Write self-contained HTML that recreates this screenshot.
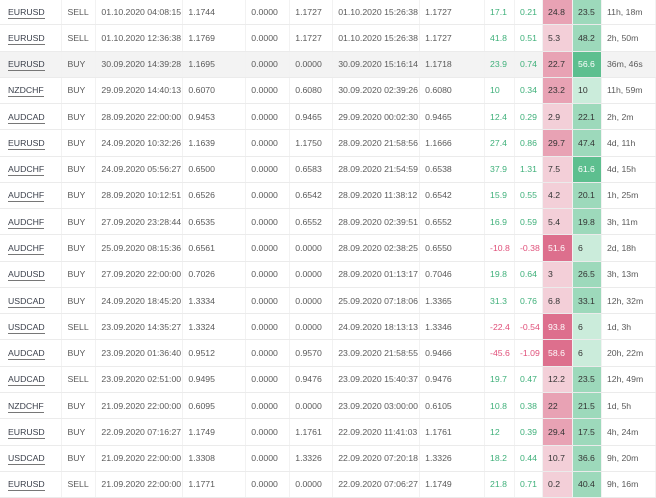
<!DOCTYPE html>
<html><head><meta charset="utf-8"><style>
html,body{margin:0;padding:0;background:#fff;width:656px;height:496px;overflow:hidden}
table{position:absolute;left:0;top:-1px;border-collapse:collapse;table-layout:fixed;font-family:"Liberation Sans",sans-serif;font-size:8.7px;color:#5a5a5a}
td{height:25.28px;padding:0 0 0 5px;border-bottom:1px solid #ebebeb;border-right:1px solid #f2f2f2;white-space:nowrap;overflow:hidden}
td:first-child{padding-left:8px}
td:first-child span{color:#3a3f4a;border-bottom:1px solid #777;padding-bottom:1px}
tr.h td{background:#f3f3f3}
.g{color:#3fb07a}.r{color:#e0507a}
.r1{background:#f3cfd8!important;color:#333}.r2{background:#e8a2b4!important;color:#333}.r3{background:#dd6f8d!important;color:#fff}
.g1{background:#cbecdb!important;color:#333}.g2{background:#9dd9bb!important;color:#333}.g3{background:#5dbf8f!important;color:#fff}
</style></head><body>
<table>
<colgroup><col style="width:62px"><col style="width:34px"><col style="width:87px"><col style="width:63px"><col style="width:44px"><col style="width:43px"><col style="width:87px"><col style="width:65px"><col style="width:30px"><col style="width:28px"><col style="width:30px"><col style="width:29px"><col style="width:54px"></colgroup>
<tr><td><span>EURUSD</span></td><td>SELL</td><td>01.10.2020 04:08:15</td><td>1.1744</td><td>0.0000</td><td>1.1727</td><td>01.10.2020 15:26:38</td><td>1.1727</td><td class="g">17.1</td><td class="g">0.21</td><td class="r2">24.8</td><td class="g2">23.5</td><td>11h, 18m</td></tr>
<tr><td><span>EURUSD</span></td><td>SELL</td><td>01.10.2020 12:36:38</td><td>1.1769</td><td>0.0000</td><td>1.1727</td><td>01.10.2020 15:26:38</td><td>1.1727</td><td class="g">41.8</td><td class="g">0.51</td><td class="r1">5.3</td><td class="g2">48.2</td><td>2h, 50m</td></tr>
<tr class="h"><td><span>EURUSD</span></td><td>BUY</td><td>30.09.2020 14:39:28</td><td>1.1695</td><td>0.0000</td><td>0.0000</td><td>30.09.2020 15:16:14</td><td>1.1718</td><td class="g">23.9</td><td class="g">0.74</td><td class="r2">22.7</td><td class="g3">56.6</td><td>36m, 46s</td></tr>
<tr><td><span>NZDCHF</span></td><td>BUY</td><td>29.09.2020 14:40:13</td><td>0.6070</td><td>0.0000</td><td>0.6080</td><td>30.09.2020 02:39:26</td><td>0.6080</td><td class="g">10</td><td class="g">0.34</td><td class="r2">23.2</td><td class="g1">10</td><td>11h, 59m</td></tr>
<tr><td><span>AUDCAD</span></td><td>BUY</td><td>28.09.2020 22:00:00</td><td>0.9453</td><td>0.0000</td><td>0.9465</td><td>29.09.2020 00:02:30</td><td>0.9465</td><td class="g">12.4</td><td class="g">0.29</td><td class="r1">2.9</td><td class="g2">22.1</td><td>2h, 2m</td></tr>
<tr><td><span>EURUSD</span></td><td>BUY</td><td>24.09.2020 10:32:26</td><td>1.1639</td><td>0.0000</td><td>1.1750</td><td>28.09.2020 21:58:56</td><td>1.1666</td><td class="g">27.4</td><td class="g">0.86</td><td class="r2">29.7</td><td class="g2">47.4</td><td>4d, 11h</td></tr>
<tr><td><span>AUDCHF</span></td><td>BUY</td><td>24.09.2020 05:56:27</td><td>0.6500</td><td>0.0000</td><td>0.6583</td><td>28.09.2020 21:54:59</td><td>0.6538</td><td class="g">37.9</td><td class="g">1.31</td><td class="r1">7.5</td><td class="g3">61.6</td><td>4d, 15h</td></tr>
<tr><td><span>AUDCHF</span></td><td>BUY</td><td>28.09.2020 10:12:51</td><td>0.6526</td><td>0.0000</td><td>0.6542</td><td>28.09.2020 11:38:12</td><td>0.6542</td><td class="g">15.9</td><td class="g">0.55</td><td class="r1">4.2</td><td class="g2">20.1</td><td>1h, 25m</td></tr>
<tr><td><span>AUDCHF</span></td><td>BUY</td><td>27.09.2020 23:28:44</td><td>0.6535</td><td>0.0000</td><td>0.6552</td><td>28.09.2020 02:39:51</td><td>0.6552</td><td class="g">16.9</td><td class="g">0.59</td><td class="r1">5.4</td><td class="g2">19.8</td><td>3h, 11m</td></tr>
<tr><td><span>AUDCHF</span></td><td>BUY</td><td>25.09.2020 08:15:36</td><td>0.6561</td><td>0.0000</td><td>0.0000</td><td>28.09.2020 02:38:25</td><td>0.6550</td><td class="r">-10.8</td><td class="r">-0.38</td><td class="r3">51.6</td><td class="g1">6</td><td>2d, 18h</td></tr>
<tr><td><span>AUDUSD</span></td><td>BUY</td><td>27.09.2020 22:00:00</td><td>0.7026</td><td>0.0000</td><td>0.0000</td><td>28.09.2020 01:13:17</td><td>0.7046</td><td class="g">19.8</td><td class="g">0.64</td><td class="r1">3</td><td class="g2">26.5</td><td>3h, 13m</td></tr>
<tr><td><span>USDCAD</span></td><td>BUY</td><td>24.09.2020 18:45:20</td><td>1.3334</td><td>0.0000</td><td>0.0000</td><td>25.09.2020 07:18:06</td><td>1.3365</td><td class="g">31.3</td><td class="g">0.76</td><td class="r1">6.8</td><td class="g2">33.1</td><td>12h, 32m</td></tr>
<tr><td><span>USDCAD</span></td><td>SELL</td><td>23.09.2020 14:35:27</td><td>1.3324</td><td>0.0000</td><td>0.0000</td><td>24.09.2020 18:13:13</td><td>1.3346</td><td class="r">-22.4</td><td class="r">-0.54</td><td class="r3">93.8</td><td class="g1">6</td><td>1d, 3h</td></tr>
<tr><td><span>AUDCAD</span></td><td>BUY</td><td>23.09.2020 01:36:40</td><td>0.9512</td><td>0.0000</td><td>0.9570</td><td>23.09.2020 21:58:55</td><td>0.9466</td><td class="r">-45.6</td><td class="r">-1.09</td><td class="r3">58.6</td><td class="g1">6</td><td>20h, 22m</td></tr>
<tr><td><span>AUDCAD</span></td><td>SELL</td><td>23.09.2020 02:51:00</td><td>0.9495</td><td>0.0000</td><td>0.9476</td><td>23.09.2020 15:40:37</td><td>0.9476</td><td class="g">19.7</td><td class="g">0.47</td><td class="r1">12.2</td><td class="g2">23.5</td><td>12h, 49m</td></tr>
<tr><td><span>NZDCHF</span></td><td>BUY</td><td>21.09.2020 22:00:00</td><td>0.6095</td><td>0.0000</td><td>0.0000</td><td>23.09.2020 03:00:00</td><td>0.6105</td><td class="g">10.8</td><td class="g">0.38</td><td class="r2">22</td><td class="g2">21.5</td><td>1d, 5h</td></tr>
<tr><td><span>EURUSD</span></td><td>BUY</td><td>22.09.2020 07:16:27</td><td>1.1749</td><td>0.0000</td><td>1.1761</td><td>22.09.2020 11:41:03</td><td>1.1761</td><td class="g">12</td><td class="g">0.39</td><td class="r2">29.4</td><td class="g2">17.5</td><td>4h, 24m</td></tr>
<tr><td><span>USDCAD</span></td><td>BUY</td><td>21.09.2020 22:00:00</td><td>1.3308</td><td>0.0000</td><td>1.3326</td><td>22.09.2020 07:20:18</td><td>1.3326</td><td class="g">18.2</td><td class="g">0.44</td><td class="r1">10.7</td><td class="g2">36.6</td><td>9h, 20m</td></tr>
<tr><td><span>EURUSD</span></td><td>SELL</td><td>21.09.2020 22:00:00</td><td>1.1771</td><td>0.0000</td><td>0.0000</td><td>22.09.2020 07:06:27</td><td>1.1749</td><td class="g">21.8</td><td class="g">0.71</td><td class="r1">0.2</td><td class="g2">40.4</td><td>9h, 16m</td></tr>
</table>
</body></html>
